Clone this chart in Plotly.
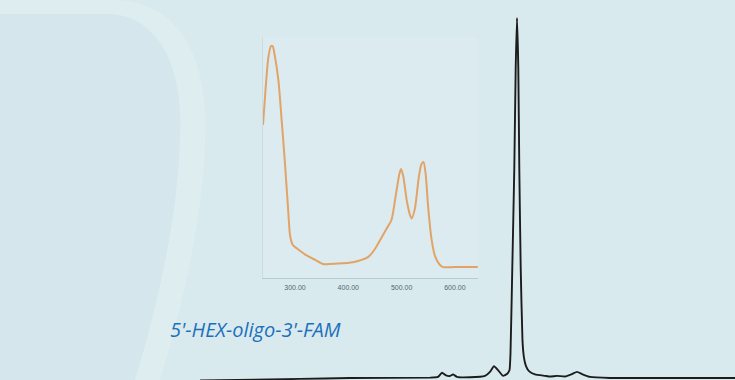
import plotly.graph_objects as go

# HPLC trace of the dual-labelled oligo (retention time in min, signal in mAU)
retention_min = [4.00, 6.00, 7.00, 8.60, 8.76, 8.84, 8.92, 9.00, 9.06, 9.14,
                 9.40, 9.70, 9.80, 9.88, 9.96, 10.06, 10.14, 10.19, 10.21, 10.246,
                 10.286, 10.314, 10.34, 10.366, 10.386, 10.414, 10.45, 10.48, 10.52,
                 10.58, 10.70, 10.90, 11.00, 11.14, 11.30, 11.44, 11.54, 11.64,
                 11.80, 12.20, 14.70]
signal_mau = [-0.7, -0.25, 0.0, 0.1, 0.3, 1.5, 0.7, 0.55, 1.0, 0.3,
              0.2, 0.6, 1.7, 3.3, 2.2, 0.6, 1.1, 2.2, 6.9, 30.6,
              58.3, 86.1, 100.0, 86.1, 58.3, 30.6, 10.3, 5.6, 3.3,
              1.9, 1.0, 0.6, 0.4, 0.6, 0.4, 1.1, 1.7, 1.1,
              0.3, 0.0, 0.0]

# UV-Vis absorbance spectrum (wavelength in nm, normalised absorbance)
wavelength_nm = [240, 245, 250, 255, 258, 262, 269, 275, 281, 287, 291, 296,
                 305, 320, 338, 353, 380, 409, 425, 437, 450, 463, 475, 481,
                 490, 496, 499, 503, 510, 516, 519, 525, 532, 537, 541, 545,
                 550, 556, 563, 572, 578, 600, 643]
absorbance = [0.66, 0.82, 0.95, 1.00, 1.00, 0.96, 0.85, 0.68, 0.50, 0.30, 0.18, 0.142,
              0.125, 0.10, 0.078, 0.06, 0.062, 0.068, 0.078, 0.09, 0.125, 0.177, 0.225, 0.25,
              0.37, 0.45, 0.47, 0.44, 0.33, 0.27, 0.257, 0.30, 0.43, 0.49, 0.50, 0.45,
              0.30, 0.17, 0.092, 0.056, 0.047, 0.047, 0.047]

spectrum_ticks = [300, 400, 500, 600]
sample_label = "5'-HEX-oligo-3'-FAM"

W, H = 735, 380


def px(x, y):
    """Convert pixel position to paper coordinates."""
    return x / W, 1 - y / H


def path(points):
    out = []
    for cmd, coords in points:
        pts = []
        for i in range(0, len(coords), 2):
            a, b = px(coords[i], coords[i + 1])
            pts.append(f"{a:.4f},{b:.4f}")
        out.append(cmd + " " + " ".join(pts))
    return " ".join(out) + " Z"


fig = go.Figure()

fig.add_trace(go.Scatter(
    x=retention_min, y=signal_mau, mode="lines",
    line=dict(color="#1c1c1c", width=1.9, shape="spline", smoothing=0.4),
    xaxis="x", yaxis="y", showlegend=False, hoverinfo="skip"))

fig.add_trace(go.Scatter(
    x=wavelength_nm, y=absorbance, mode="lines",
    line=dict(color="#e1a466", width=2, shape="spline", smoothing=0.7),
    xaxis="x2", yaxis="y2", showlegend=False, hoverinfo="skip"))

# soft background decoration: slightly greyer left panel and a faint curved band
inner_region = path([
    ("M", [0, 14]), ("L", [110, 14]),
    ("C", [150, 16, 176, 50, 180, 110]),
    ("C", [182, 190, 165, 280, 135, 380]),
    ("L", [0, 380]),
])
arc_band = path([
    ("M", [0, 0]), ("L", [120, 0]),
    ("C", [170, 5, 200, 40, 205, 110]),
    ("C", [208, 190, 190, 280, 160, 380]),
    ("L", [135, 380]),
    ("C", [165, 280, 182, 190, 180, 110]),
    ("C", [176, 50, 150, 16, 110, 14]),
    ("L", [0, 14]),
])
ix0, iy0 = px(263, 278)
ix1, iy1 = px(478, 37)

fig.update_layout(
    width=W, height=H, autosize=False,
    margin=dict(l=0, r=0, t=0, b=0),
    paper_bgcolor="#d9eaee",
    plot_bgcolor="rgba(0,0,0,0)",
    xaxis=dict(domain=[0, 1], range=[0, 14.7], visible=False, fixedrange=True),
    yaxis=dict(domain=[0, 1], range=[105 - H / 3.6, 105], visible=False, fixedrange=True),
    xaxis2=dict(domain=[263 / W, 478 / W], range=[240, 643.3], anchor="y2",
                tickvals=spectrum_ticks, tickformat=".2f",
                tickfont=dict(family="Liberation Sans", size=7, color="#56656c"),
                showgrid=False, zeroline=False, showline=True,
                linecolor="#b7cad2", linewidth=1, ticks="", ticklabelstandoff=3),
    yaxis2=dict(domain=[1 - 278 / H, 1 - 37 / H], range=[0, 1.039], anchor="x2",
                showticklabels=False, showgrid=False, zeroline=False,
                showline=True, linecolor="rgba(190,208,215,0.5)", linewidth=1, ticks=""),
    shapes=[
        dict(type="path", path=inner_region, xref="paper", yref="paper",
             fillcolor="rgba(170,195,210,0.07)", line=dict(width=0), layer="below"),
        dict(type="path", path=arc_band, xref="paper", yref="paper",
             fillcolor="rgba(255,255,255,0.14)", line=dict(width=0), layer="below"),
        dict(type="rect", xref="paper", yref="paper", x0=ix0, y0=iy0, x1=ix1, y1=iy1,
             fillcolor="rgba(255,255,255,0.08)", line=dict(width=0), layer="below"),
    ],
    annotations=[
        dict(text=sample_label, xref="paper", yref="paper",
             x=168 / W, y=1 - 329 / H, xanchor="left", yanchor="middle",
             showarrow=False,
             font=dict(family="Open Sans", size=20, color="#1c70ba", style="italic")),
    ],
)

fig.write_html("out.html")
